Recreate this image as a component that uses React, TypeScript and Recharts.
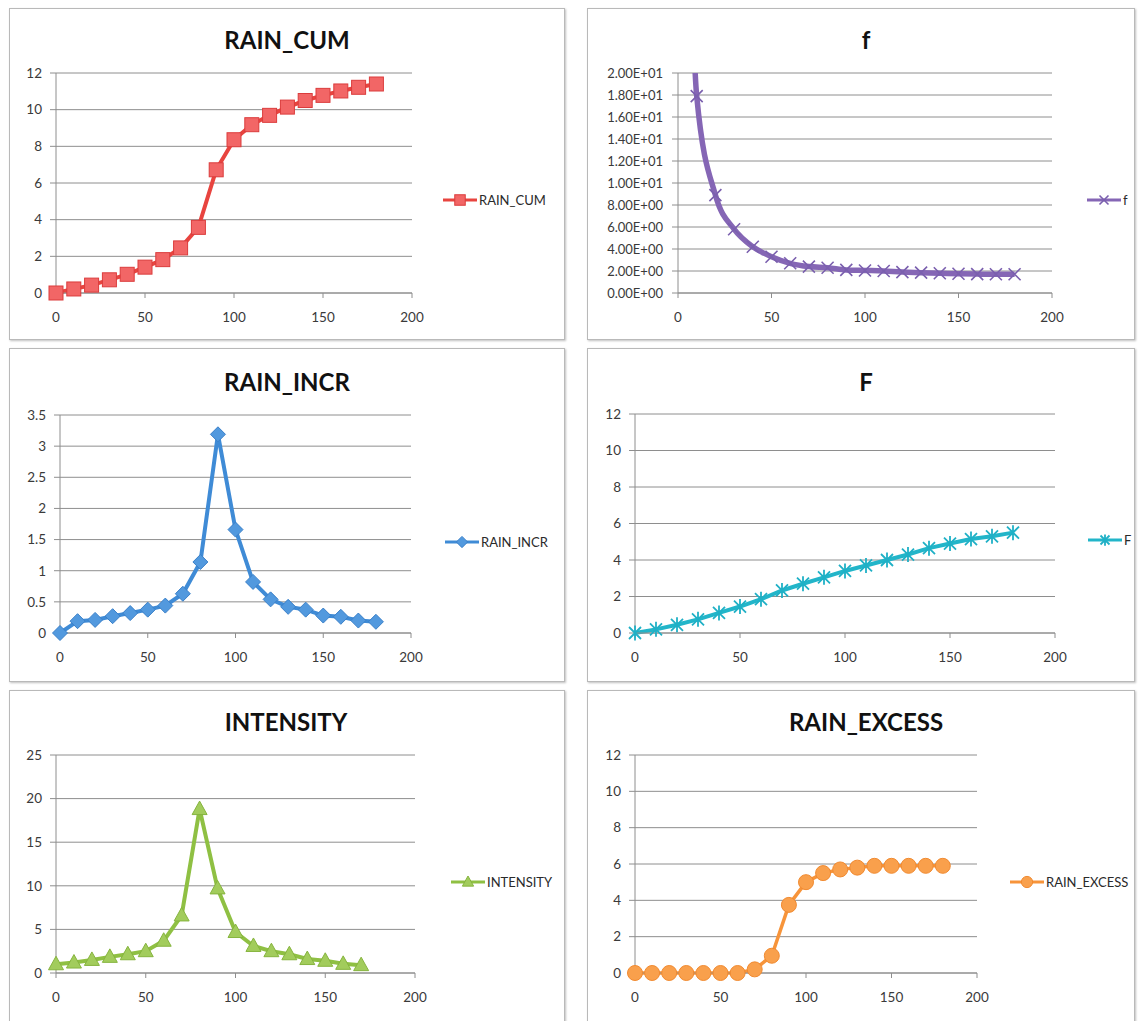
import React from 'react';
import { LineChart, Line, XAxis, YAxis, CartesianGrid } from 'recharts';

const TIME = [0, 10, 20, 30, 40, 50, 60, 70, 80, 90, 100, 110, 120, 130, 140, 150, 160, 170, 180];
const RAIN_CUM = [0, 0.22, 0.43, 0.72, 1.02, 1.41, 1.82, 2.46, 3.58, 6.72, 8.36, 9.18, 9.69, 10.14, 10.5, 10.78, 11.02, 11.22, 11.4];
const F_RATE = [100, 17.9, 8.9, 5.8, 4.2, 3.3, 2.7, 2.4, 2.3, 2.1, 2.05, 2.0, 1.9, 1.85, 1.8, 1.75, 1.72, 1.7, 1.7];
const RAIN_INCR = [0, 0.19, 0.21, 0.27, 0.32, 0.375, 0.44, 0.63, 1.14, 3.19, 1.66, 0.82, 0.54, 0.42, 0.375, 0.28, 0.26, 0.2, 0.18];
const F_CUM = [0, 0.2, 0.45, 0.75, 1.1, 1.45, 1.85, 2.33, 2.7, 3.05, 3.4, 3.7, 4.0, 4.3, 4.65, 4.9, 5.15, 5.3, 5.5];
const INTENSITY = [1.0, 1.2, 1.5, 1.85, 2.15, 2.5, 3.7, 6.6, 18.8, 9.7, 4.7, 3.1, 2.5, 2.15, 1.6, 1.4, 1.05, 0.9];
const RAIN_EXCESS = [0, 0, 0, 0, 0, 0, 0, 0.2, 0.95, 3.75, 5.0, 5.5, 5.7, 5.8, 5.9, 5.9, 5.9, 5.9, 5.9];

const X_TICKS = [0, 50, 100, 150, 200];
const TICKS_12 = [0, 2, 4, 6, 8, 10, 12];
const TICKS_20 = [0, 2, 4, 6, 8, 10, 12, 14, 16, 18, 20];
const TICKS_35 = [0, 0.5, 1, 1.5, 2, 2.5, 3, 3.5];
const TICKS_25 = [0, 5, 10, 15, 20, 25];

const FONT = "Lato, 'Open Sans', 'Liberation Sans', sans-serif";
const GRID = '#8e8e8e';

const fmtE = (v: number) => {
  const s = v.toExponential(2);
  const [m, e] = s.split('e');
  const sign = e[0] === '-' ? '-' : '+';
  const d = e.replace(/[+-]/, '').padStart(2, '0');
  return `${m}E${sign}${d}`;
};

type Kind = 'square' | 'diamond' | 'x' | 'star' | 'triangle' | 'circle';

const MARK: Record<Kind, { fill: string; stroke: string }> = {
  square: { fill: '#f26666', stroke: '#db3c3c' },
  diamond: { fill: '#5299de', stroke: '#3a80c9' },
  x: { fill: 'none', stroke: '#7a5fae' },
  star: { fill: 'none', stroke: '#1fb0c6' },
  triangle: { fill: '#a2cc5c', stroke: '#86b43e' },
  circle: { fill: '#f9a04c', stroke: '#f18a30' },
};

function renderMarker(kind: Kind, cx: number, cy: number, s: number, key?: any) {
  const c = MARK[kind];
  if (cx == null || cy == null || isNaN(cx) || isNaN(cy)) return <g key={key} />;
  switch (kind) {
    case 'square':
      return <rect key={key} x={cx - 7 * s} y={cy - 7 * s} width={14 * s} height={14 * s} fill={c.fill} stroke={c.stroke} strokeWidth={1} />;
    case 'diamond':
      return (
        <polygon key={key} points={`${cx},${cy - 7.5 * s} ${cx + 7.5 * s},${cy} ${cx},${cy + 7.5 * s} ${cx - 7.5 * s},${cy}`} fill={c.fill} stroke={c.stroke} strokeWidth={1} />
      );
    case 'x':
      return (
        <path key={key} d={`M${cx - 6 * s},${cy - 6 * s}L${cx + 6 * s},${cy + 6 * s}M${cx + 6 * s},${cy - 6 * s}L${cx - 6 * s},${cy + 6 * s}`} stroke={c.stroke} strokeWidth={1.6} fill="none" />
      );
    case 'star':
      return (
        <path key={key} d={`M${cx - 6 * s},${cy - 6 * s}L${cx + 6 * s},${cy + 6 * s}M${cx + 6 * s},${cy - 6 * s}L${cx - 6 * s},${cy + 6 * s}M${cx},${cy - 7.5 * s}L${cx},${cy + 7.5 * s}`} stroke={c.stroke} strokeWidth={1.8} fill="none" />
      );
    case 'triangle':
      return (
        <polygon key={key} points={`${cx},${cy - 8 * s} ${cx + 7.5 * s},${cy + 5.5 * s} ${cx - 7.5 * s},${cy + 5.5 * s}`} fill={c.fill} stroke={c.stroke} strokeWidth={1} />
      );
    case 'circle':
    default:
      return <circle key={key} cx={cx} cy={cy} r={7.5 * s} fill={c.fill} stroke={c.stroke} strokeWidth={1} />;
  }
}

interface PanelDef {
  title: string;
  name: string;
  values: number[];
  box: [number, number, number, number];
  plot: [number, number, number, number];
  titleX: number;
  titleY: number;
  legendX: number;
  legendY: number;
  yTicks: number[];
  yFmt?: (v: number) => string;
  clip?: boolean;
  color: string;
  width: number;
  kind: Kind;
  curve: 'linear' | 'monotone';
}

const PANELS: PanelDef[] = [
  { title: 'RAIN_CUM', name: 'RAIN_CUM', values: RAIN_CUM, box: [9, 8, 565, 340], plot: [56, 73, 412, 293], titleX: 287, titleY: 40, legendX: 443, legendY: 200, yTicks: TICKS_12, color: '#e8443f', width: 4, kind: 'square', curve: 'linear' },
  { title: 'f', name: 'f', values: F_RATE, box: [587, 8, 1135, 340], plot: [678, 73, 1052, 293], titleX: 866, titleY: 40, legendX: 1087, legendY: 200, yTicks: TICKS_20, yFmt: fmtE, clip: true, color: '#8566b5', width: 5.5, kind: 'x', curve: 'monotone' },
  { title: 'RAIN_INCR', name: 'RAIN_INCR', values: RAIN_INCR, box: [9, 348, 565, 682], plot: [60, 415, 411, 633], titleX: 287, titleY: 382, legendX: 445, legendY: 542, yTicks: TICKS_35, color: '#3f8bd6', width: 4, kind: 'diamond', curve: 'linear' },
  { title: 'F', name: 'F', values: F_CUM, box: [587, 348, 1135, 682], plot: [635, 414, 1055, 633], titleX: 866, titleY: 382, legendX: 1088, legendY: 540, yTicks: TICKS_12, color: '#22b5c9', width: 4, kind: 'star', curve: 'linear' },
  { title: 'INTENSITY', name: 'INTENSITY', values: INTENSITY, box: [9, 690, 565, 1030], plot: [56, 755, 415, 973], titleX: 286, titleY: 722, legendX: 451, legendY: 882, yTicks: TICKS_25, color: '#8fc043', width: 4, kind: 'triangle', curve: 'linear' },
  { title: 'RAIN_EXCESS', name: 'RAIN_EXCESS', values: RAIN_EXCESS, box: [587, 690, 1135, 1030], plot: [635, 755, 977, 973], titleX: 866, titleY: 722, legendX: 1010, legendY: 882, yTicks: TICKS_12, color: '#f7943a', width: 3.5, kind: 'circle', curve: 'linear' },
];

function Panel({ p }: { p: PanelDef }) {
  const [l, t, r, b] = p.box;
  const [pl, pt, pr, pb] = p.plot;
  const W = r - l;
  const H = b - t;
  const yw = pl - l - 2;
  const XH = 40;
  const data = p.values.map((v, i) => ({ t: TIME[i], v }));
  const yMax = p.yTicks[p.yTicks.length - 1];
  return (
    <>
      <div
        style={{
          position: 'absolute', left: l, top: t, width: W, height: H, boxSizing: 'border-box',
          border: '1px solid #b9b9b9', boxShadow: '1px 1px 2px rgba(0,0,0,0.25)', background: '#fff',
        }}
      />
      <div
        style={{
          position: 'absolute', left: p.titleX - 150, top: p.titleY - 16, width: 300, textAlign: 'center',
          fontFamily: FONT, fontWeight: 700, fontSize: 24, lineHeight: '32px', color: '#111',
        }}
      >
        {p.title}
      </div>
      <div style={{ position: 'absolute', left: l, top: t }}>
        <LineChart width={W} height={H} data={data} margin={{ top: pt - t, left: 2, right: r - pr, bottom: b - pb - XH }}>
          <CartesianGrid vertical={false} stroke={GRID} strokeWidth={1} />
          <XAxis
            dataKey="t" type="number" domain={[0, 200]} ticks={X_TICKS} interval={0}
            height={XH} tickSize={5} tickMargin={14}
            axisLine={{ stroke: GRID }} tickLine={{ stroke: GRID }}
            tick={{ fill: '#3a3a3a', fontSize: 13.5, fontFamily: FONT }}
          />
          <YAxis
            type="number" domain={[0, yMax]} ticks={p.yTicks} interval={0} allowDataOverflow={!!p.clip}
            width={yw} tickSize={6} tickMargin={p.yFmt ? 9 : 8}
            tickFormatter={p.yFmt ? p.yFmt : (v: number) => String(v)}
            axisLine={{ stroke: GRID }} tickLine={{ stroke: GRID }}
            tick={{ fill: '#3a3a3a', fontSize: p.yFmt ? 13 : 13.5, fontFamily: FONT }}
          />
          <Line
            type={p.curve} dataKey="v" name={p.name} stroke={p.color} strokeWidth={p.width}
            isAnimationActive={false} activeDot={false}
            dot={(d: any) => renderMarker(p.kind, d.cx, d.cy, 1, `d${d.index}`)}
          />
        </LineChart>
      </div>
      <div
        style={{
          position: 'absolute', left: p.legendX, top: p.legendY - 9, height: 18, display: 'flex', alignItems: 'center',
          fontFamily: FONT, fontSize: 13, color: '#2a2a2a', whiteSpace: 'nowrap',
        }}
      >
        <svg width={34} height={18} style={{ display: 'block' }}>
          <line x1={0} y1={9} x2={34} y2={9} stroke={p.color} strokeWidth={3} />
          {renderMarker(p.kind, 17, 9, 0.75)}
        </svg>
        <span style={{ marginLeft: 2 }}>{p.name}</span>
      </div>
    </>
  );
}

export default function App() {
  return (
    <div style={{ position: 'absolute', left: 0, top: 0, width: 1138, height: 1021, overflow: 'hidden', background: '#fff' }}>
      {PANELS.map((p) => (
        <Panel key={p.title} p={p} />
      ))}
    </div>
  );
}
